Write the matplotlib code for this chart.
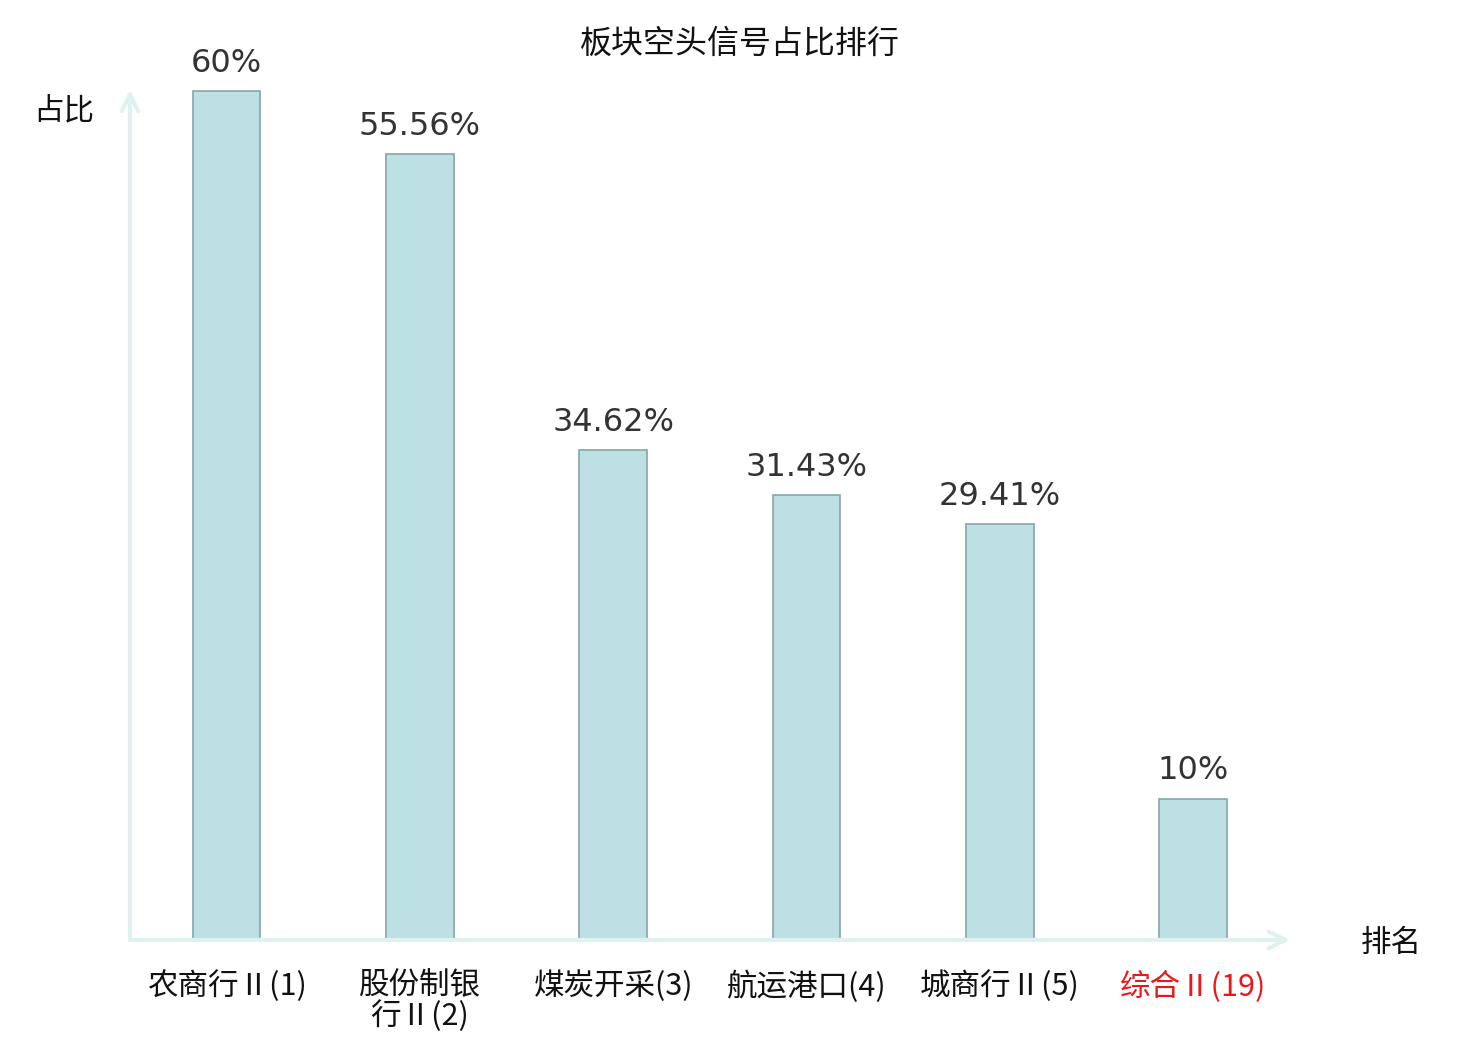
import matplotlib
matplotlib.use('Agg')
import matplotlib.pyplot as plt
import numpy as np

plt.rcParams['font.family'] = ['Noto Sans CJK SC', 'DejaVu Sans']

# data
categories = ['农商行Ⅱ(1)', '股份制银\n行Ⅱ(2)', '煤炭开采(3)', '航运港口(4)', '城商行Ⅱ(5)', '综合Ⅱ(19)']
values = [60, 55.56, 34.62, 31.43, 29.41, 10]
value_labels = ['60%', '55.56%', '34.62%', '31.43%', '29.41%', '10%']
label_colors = ['#111111'] * 5 + ['#e8191c']

fig = plt.figure(figsize=(14.8, 10.4), dpi=100)
ax = fig.add_axes([0.0878, 0.0962, 0.7838, 0.8173])

x = np.arange(len(categories))
ax.bar(x, values, width=0.35, color='#bce0e3', edgecolor='#86a6a8', linewidth=1.2, zorder=2)

for xi, v, lab in zip(x, values, value_labels):
    ax.annotate(lab, (xi, v), xytext=(0, 9), textcoords='offset points',
                ha='center', va='bottom', fontsize=23, color='#333333',
                family=['DejaVu Sans'])

ax.set_xlim(-0.5, 5.5)
ax.set_ylim(0, 60.1)

for s in ax.spines.values():
    s.set_visible(False)
ax.set_yticks([])
ax.set_xticks(x)
ax.set_xticklabels(categories, fontsize=22, linespacing=0.95)
for t, c in zip(ax.get_xticklabels(), label_colors):
    t.set_color(c)
ax.tick_params(axis='x', length=0, pad=22)

# axis arrows
axis_col = '#dff2ef'
arrow_kw = dict(arrowstyle='->', color=axis_col, lw=3, mutation_scale=30, shrinkA=0, shrinkB=0)
ax.annotate('', xy=(1.0, 0), xytext=(0, 0), xycoords='axes fraction', arrowprops=arrow_kw)
ax.annotate('', xy=(0, 1.0), xytext=(0, 0), xycoords='axes fraction', arrowprops=arrow_kw)

fig.text(0.043, 0.893, '占比', fontsize=22, ha='center', va='center', color='#111111')
fig.text(0.94, 0.093, '排名', fontsize=22, ha='center', va='center', color='#111111')
fig.text(0.5, 0.958, '板块空头信号占比排行', fontsize=23, ha='center', va='center', color='#111111')

fig.savefig('out.png', dpi=100)
